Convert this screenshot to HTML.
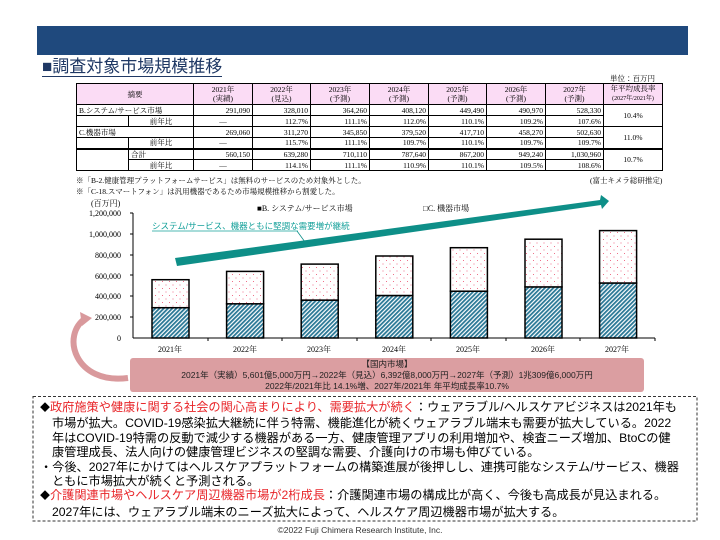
<!DOCTYPE html>
<html><head><meta charset="utf-8"><style>
*{margin:0;padding:0;box-sizing:border-box}
body{width:720px;height:540px;background:#fff;position:relative;overflow:hidden;font-family:"Liberation Sans","Noto Sans CJK JP",sans-serif}
.abs{position:absolute}
.bar{left:37px;top:26px;width:651px;height:29px;background:#1f497d}
.title{left:42px;top:57px;font-size:17px;color:#1f3864;border-bottom:1.5px solid #1f3864;line-height:19px;white-space:nowrap}
table{border-collapse:collapse;font-family:"Liberation Serif","Noto Serif CJK JP",serif;font-size:7.5px;table-layout:fixed}
td{border:1px solid #000;padding:0 2px;height:11px;line-height:9px;text-align:right;white-space:nowrap;overflow:hidden}
th{border:1px solid #000;background:#fbdcf5;font-weight:normal;font-size:7.5px;line-height:9px;height:20px}
.sm{font-size:6px}
.note{font-family:"Liberation Serif","Noto Serif CJK JP",serif;font-size:7.5px;white-space:nowrap}
.txt{font-size:12.2px;line-height:14.4px;color:#000}
.red{color:#e8262a}
</style></head><body>
<div class="abs bar"></div>
<div class="abs title">■調査対象市場規模推移</div>
<div class="abs note" style="left:610px;top:73px">単位：百万円</div>
<table class="abs" style="left:76px;top:83px;width:586px">
<colgroup><col style="width:52px"><col style="width:65px"><col style="width:59px"><col style="width:58px"><col style="width:59px"><col style="width:59px"><col style="width:58px"><col style="width:59px"><col style="width:58px"><col style="width:59px"></colgroup>
<tr><th colspan="2">摘要</th><th>2021年<br>(実績)</th><th>2022年<br>(見込)</th><th>2023年<br>(予測)</th><th>2024年<br>(予測)</th><th>2025年<br>(予測)</th><th>2026年<br>(予測)</th><th>2027年<br>(予測)</th><th>年平均成長率<br><span class="sm">(2027年/2021年)</span></th></tr>
<tr><td colspan="2" style="text-align:left">B.システム/サービス市場</td><td>291,090</td><td>328,010</td><td>364,260</td><td>408,120</td><td>449,490</td><td>490,970</td><td>528,330</td><td rowspan="2" style="text-align:center">10.4%</td></tr>
<tr><td style="border-bottom:none;border-top:none"></td><td style="text-align:center">前年比</td><td style="text-align:center">―</td><td>112.7%</td><td>111.1%</td><td>112.0%</td><td>110.1%</td><td>109.2%</td><td>107.6%</td></tr>
<tr><td colspan="2" style="text-align:left">C.機器市場</td><td>269,060</td><td>311,270</td><td>345,850</td><td>379,520</td><td>417,710</td><td>458,270</td><td>502,630</td><td rowspan="2" style="text-align:center">11.0%</td></tr>
<tr><td style="border-top:none"></td><td style="text-align:center">前年比</td><td style="text-align:center">―</td><td>115.7%</td><td>111.1%</td><td>109.7%</td><td>110.1%</td><td>109.7%</td><td>109.7%</td></tr>
<tr style="border-top:2.5px solid #000"><td style="border-bottom:none"></td><td style="text-align:left">合計</td><td>560,150</td><td>639,280</td><td>710,110</td><td>787,640</td><td>867,200</td><td>949,240</td><td>1,030,960</td><td rowspan="2" style="text-align:center">10.7%</td></tr>
<tr><td style="border-top:none"></td><td style="text-align:center">前年比</td><td style="text-align:center">―</td><td>114.1%</td><td>111.1%</td><td>110.9%</td><td>110.1%</td><td>109.5%</td><td>108.6%</td></tr>
</table>
<div class="abs note" style="left:76px;top:175px">※「B-2.健康管理プラットフォームサービス」は無料のサービスのため対象外とした。</div>
<div class="abs note" style="left:590px;top:175px">(富士キメラ総研推定)</div>
<div class="abs note" style="left:76px;top:186px">※「C-18.スマートフォン」は汎用機器であるため市場規模推移から割愛した。</div>

<svg class="abs" style="left:0;top:0" width="720" height="540">
<defs>
<pattern id="hat" width="3" height="3" patternUnits="userSpaceOnUse" patternTransform="rotate(45)"><rect width="3" height="3" fill="#fff"/><rect width="1.8" height="3" fill="#2a7896"/></pattern>
<pattern id="dot" width="7" height="7" patternUnits="userSpaceOnUse"><rect width="7" height="7" fill="#fff"/><rect x="1" y="1" width="1" height="1" fill="#f0708a"/><rect x="4.5" y="4.5" width="1" height="1" fill="#f0708a"/></pattern>
</defs>
<g font-family="Liberation Serif,Noto Serif CJK JP,serif" font-size="8" fill="#000">
<text x="91" y="206">(百万円)</text>
<g text-anchor="end">
<text x="121" y="216">1,200,000</text><text x="121" y="237">1,000,000</text><text x="121" y="258">800,000</text><text x="121" y="279">600,000</text><text x="121" y="299">400,000</text><text x="121" y="320">200,000</text><text x="121" y="341">0</text>
</g>
<text x="257" y="211">■B. システム/サービス市場</text>
<text x="423" y="211">□C. 機器市場</text>
<g text-anchor="middle">
<text x="170" y="352">2021年</text><text x="245" y="352">2022年</text><text x="319" y="352">2023年</text><text x="394" y="352">2024年</text><text x="468" y="352">2025年</text><text x="543" y="352">2026年</text><text x="617" y="352">2027年</text>
</g>
</g>
<line x1="133" y1="213" x2="133" y2="338" stroke="#000" stroke-width="1"/>
<line x1="133" y1="338" x2="655" y2="338" stroke="#000" stroke-width="1"/>
<g stroke="#000" stroke-width="1">
<line x1="130" y1="213" x2="133" y2="213"/><line x1="130" y1="234" x2="133" y2="234"/><line x1="130" y1="255" x2="133" y2="255"/><line x1="130" y1="275" x2="133" y2="275"/><line x1="130" y1="296" x2="133" y2="296"/><line x1="130" y1="317" x2="133" y2="317"/>
<line x1="208" y1="338" x2="208" y2="341"/><line x1="282" y1="338" x2="282" y2="341"/><line x1="357" y1="338" x2="357" y2="341"/><line x1="431" y1="338" x2="431" y2="341"/><line x1="506" y1="338" x2="506" y2="341"/><line x1="580" y1="338" x2="580" y2="341"/><line x1="655" y1="338" x2="655" y2="341"/>
</g>
<g stroke="#000" stroke-width="1.5">
<rect x="152" y="307.7" width="37" height="30.3" fill="url(#hat)"/><rect x="152" y="279.7" width="37" height="28" fill="url(#dot)"/>
<rect x="226.6" y="303.8" width="37" height="34.2" fill="url(#hat)"/><rect x="226.6" y="271.4" width="37" height="32.4" fill="url(#dot)"/>
<rect x="301.2" y="300.1" width="37" height="37.9" fill="url(#hat)"/><rect x="301.2" y="264.1" width="37" height="36" fill="url(#dot)"/>
<rect x="375.8" y="295.5" width="37" height="42.5" fill="url(#hat)"/><rect x="375.8" y="256" width="37" height="39.5" fill="url(#dot)"/>
<rect x="450.4" y="291.2" width="37" height="46.8" fill="url(#hat)"/><rect x="450.4" y="247.7" width="37" height="43.5" fill="url(#dot)"/>
<rect x="525" y="286.9" width="37" height="51.1" fill="url(#hat)"/><rect x="525" y="239.2" width="37" height="47.7" fill="url(#dot)"/>
<rect x="599.6" y="283" width="37" height="55" fill="url(#hat)"/><rect x="599.6" y="230.6" width="37" height="52.4" fill="url(#dot)"/>
</g>
<polygon points="175,258 600,200 601,195 609,201 602,209 601,205 177,266" fill="#0e8f88"/>
<line x1="297" y1="231" x2="305" y2="242" stroke="#0e8f88" stroke-width="0.8"/>
<text x="152" y="229" font-family="Liberation Sans,Noto Sans CJK JP,sans-serif" font-size="8.5" fill="#14a09a">システム/サービス、機器ともに堅調な需要増が継続</text>
<line x1="152" y1="231" x2="298" y2="231" stroke="#14a09a" stroke-width="0.8"/>
<path d="M86,318 C60,335 75,385 128,378" fill="none" stroke="#d9999c" stroke-width="6"/>
<polygon points="80,312 92,318 82,326" fill="#d9999c"/>
<rect x="130" y="358" width="514" height="34" rx="3" fill="#db9ea1"/>
<g font-family="Liberation Sans,Noto Sans CJK JP,sans-serif" font-size="8.5" fill="#222" text-anchor="middle">
<text x="387" y="367">【国内市場】</text>
<text x="387" y="378">2021年（実績）5,601億5,000万円→2022年（見込）6,392億8,000万円→2027年（予測）1兆309億6,000万円</text>
<text x="387" y="389">2022年/2021年比 14.1%増、2027年/2021年 年平均成長率10.7%</text>
</g>
<rect x="33" y="396.5" width="664" height="124.5" fill="none" stroke="#333" stroke-width="1" stroke-dasharray="3,2"/>
</svg>
<div class="abs txt" style="left:40px;top:400px;width:656px">
<div><span style="font-size:10px">◆</span><span class="red">政府施策や健康に関する社会の関心高まりにより、需要拡大が続く</span>：ウェアラブル/ヘルスケアビジネスは2021年も</div>
<div style="padding-left:12px">市場が拡大。COVID-19感染拡大継続に伴う特需、機能進化が続くウェアラブル端末も需要が拡大している。2022</div>
<div style="padding-left:12px">年はCOVID-19特需の反動で減少する機器がある一方、健康管理アプリの利用増加や、検査ニーズ増加、BtoCの健</div>
<div style="padding-left:12px">康管理成長、法人向けの健康管理ビジネスの堅調な需要、介護向けの市場も伸びている。</div>
<div>・今後、2027年にかけてはヘルスケアプラットフォームの構築進展が後押しし、連携可能なシステム/サービス、機器</div>
<div style="padding-left:12px">ともに市場拡大が続くと予測される。</div>
<div><span style="font-size:10px">◆</span><span class="red">介護関連市場やヘルスケア周辺機器市場が2桁成長</span>：介護関連市場の構成比が高く、今後も高成長が見込まれる。</div>
<div style="padding-left:12px">2027年には、ウェアラブル端末のニーズ拡大によって、ヘルスケア周辺機器市場が拡大する。</div>
</div>
<div class="abs" style="left:0;width:720px;top:525px;text-align:center;font-size:8.5px;color:#333">©2022 Fuji Chimera Research Institute, Inc.</div>
</body></html>
